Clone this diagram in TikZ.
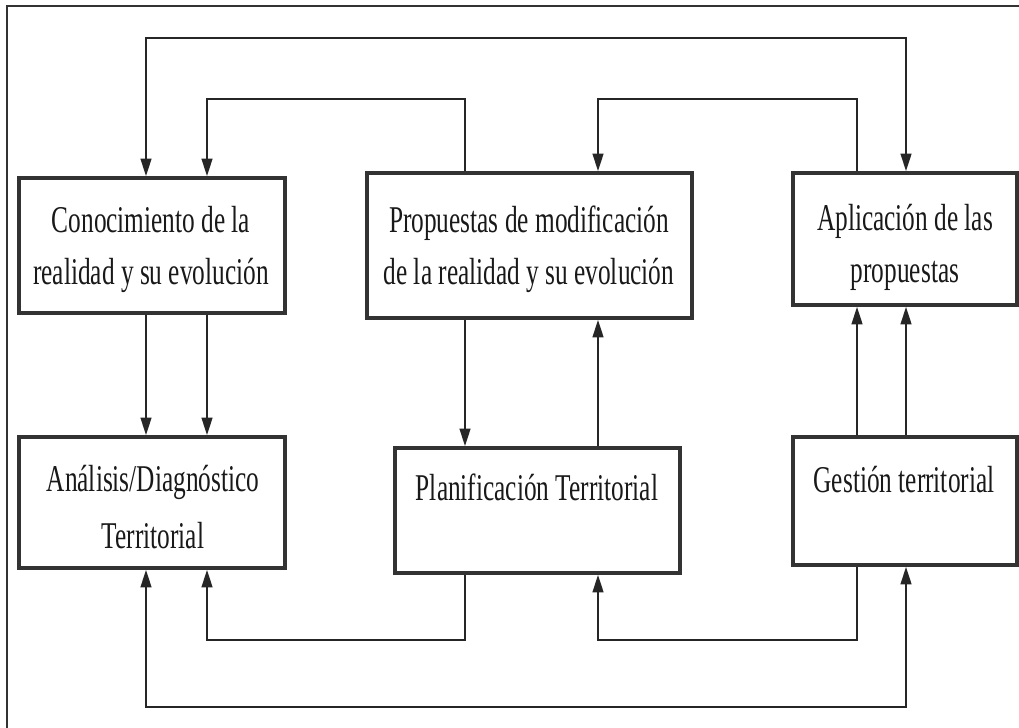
\documentclass[tikz,border=0pt]{standalone}
\usepackage{fontspec}
\setmainfont{Liberation Serif}[FakeStretch=0.67]
\usetikzlibrary{arrows.meta}
\begin{document}
\begin{tikzpicture}[x=0.01cm,y=-0.01cm,
  box/.style={draw=black!80,line width=0.95pt,rectangle,inner sep=0pt},
  lbl/.style={align=center,inner sep=0pt,text=black!90,font=\fontsize{10.75}{14.8}\selectfont},
  conn/.style={draw=black!85,line width=0.7pt},
  arr/.style={conn,-{Triangle[length=5pt,width=3pt]}},
  arrs/.style={conn,{Triangle[length=5pt,width=3pt]}-{Triangle[length=5pt,width=3pt]}}]
\useasboundingbox (0,0) rectangle (1019,728);
% frame
\draw[black!80,line width=0.7pt] (7,728) -- (7,6) -- (1019,6);
% boxes
\node[box,minimum width=2.66cm,minimum height=1.35cm] (A) at (152,245.5) {};
\node[box,minimum width=3.25cm,minimum height=1.45cm] (B) at (529.5,245.5) {};
\node[box,minimum width=2.24cm,minimum height=1.32cm] (C) at (905,239) {};
\node[box,minimum width=2.66cm,minimum height=1.31cm] (D) at (152,502.5) {};
\node[box,minimum width=2.85cm,minimum height=1.25cm] (E) at (537.5,510.5) {};
\node[box,minimum width=2.24cm,minimum height=1.28cm] (F) at (905,501) {};
% texts
\node[lbl] (tA) at (151,249) {Conocimiento de la\\realidad y su evolución};
\node[lbl] (tB) at (529,249) {Propuestas de modificación\\de la realidad y su evolución};
\node[lbl] (tC) at (905,247) {Aplicación de las\\propuestas};
\node[lbl,font=\fontsize{10.75}{16}\selectfont] (tD) at (153,507) {Análisis/Diagnóstico\\Territorial};
\node[lbl] (tE) at (537,487) {Planificación Territorial};
\node[lbl] (tF) at (904,480) {Gestión territorial};
% columns and rows
\coordinate (c1) at (146,0);
\coordinate (c2) at (207,0);
\coordinate (c3) at (465,0);
\coordinate (c4) at (598,0);
\coordinate (c5) at (857,0);
\coordinate (c6) at (906,0);
\coordinate (r1) at (0,38);
\coordinate (r2) at (0,99);
\coordinate (r3) at (0,640);
\coordinate (r4) at (0,707);
% top connectors
\draw[arrs] (A.north -| c1) -- (c1 |- r1) -- (c6 |- r1) -- (C.north -| c6);
\draw[arr] (B.north -| c3) -- (c3 |- r2) -- (c2 |- r2) -- (A.north -| c2);
\draw[arr] (C.north -| c5) -- (c5 |- r2) -- (c4 |- r2) -- (B.north -| c4);
% middle connectors
\draw[arr] (A.south -| c1) -- (D.north -| c1);
\draw[arr] (A.south -| c2) -- (D.north -| c2);
\draw[arr] (B.south -| c3) -- (E.north -| c3);
\draw[arr] (E.north -| c4) -- (B.south -| c4);
\draw[arr] (F.north -| c5) -- (C.south -| c5);
\draw[arr] (F.north -| c6) -- (C.south -| c6);
% bottom connectors
\draw[arr] (E.south -| c3) -- (c3 |- r3) -- (c2 |- r3) -- (D.south -| c2);
\draw[arr] (F.south -| c5) -- (c5 |- r3) -- (c4 |- r3) -- (E.south -| c4);
\draw[arrs] (D.south -| c1) -- (c1 |- r4) -- (c6 |- r4) -- (F.south -| c6);
\end{tikzpicture}
\end{document}
